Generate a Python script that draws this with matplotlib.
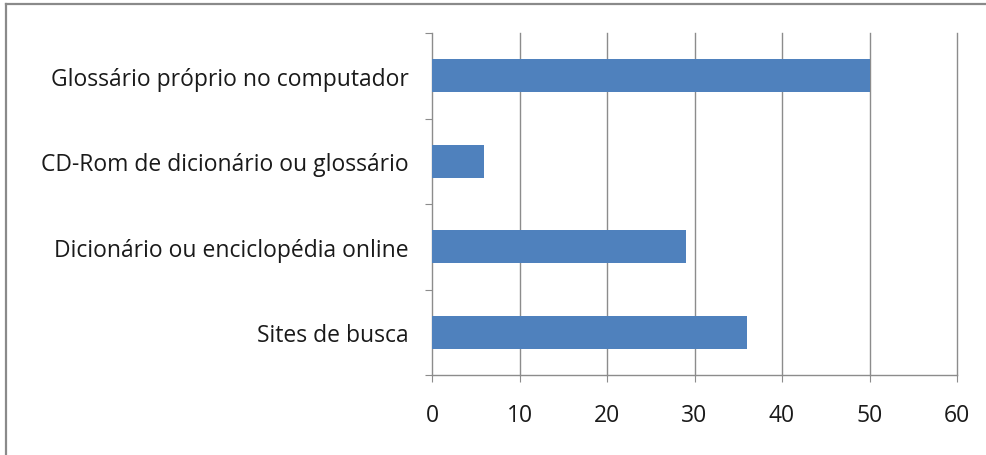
import matplotlib.pyplot as plt
from matplotlib.lines import Line2D

# data, top to bottom as in the chart
categories = ["Glossário próprio no computador",
              "CD-Rom de dicionário ou glossário",
              "Dicionário ou enciclopédia online",
              "Sites de busca"]
values = [50, 6, 29, 36]
xticks = [0, 10, 20, 30, 40, 50, 60]

plt.rcParams['font.family'] = ['Open Sans', 'DejaVu Sans']

fig = plt.figure(figsize=(9.87, 4.56), dpi=100)
ax = fig.add_axes([432 / 987, 80 / 456, 525 / 987, 342 / 456])

n = len(categories)
ypos = [n - i - 0.5 for i in range(n)]
ax.barh(ypos, values, height=0.39, color='#4F81BD', zorder=3)

ax.set_xlim(0, 60)
ax.set_ylim(0, n)
ax.set_xticks(xticks)
ax.set_xticklabels([str(t) for t in xticks], fontsize=16.5)
ax.set_yticks(range(n + 1))
ax.set_yticklabels([])
ax.set_yticks(ypos, minor=True)
ax.set_yticklabels(categories, minor=True, fontsize=16.5)

# vertical gridlines (the one at 60 forms the right edge)
for t in xticks[1:]:
    ax.axvline(t, color='#8C8C8C', linewidth=1.0, zorder=0, clip_on=False)
for s in ['top', 'right']:
    ax.spines[s].set_visible(False)
for s in ['left', 'bottom']:
    ax.spines[s].set_color('#8C8C8C')
    ax.spines[s].set_linewidth(1.0)

ax.tick_params(axis='y', which='major', length=5, color='#8C8C8C', direction='out')
ax.tick_params(axis='y', which='minor', length=0, pad=17, labelcolor='#1a1a1a')
ax.tick_params(axis='x', length=5, color='#8C8C8C', direction='out', pad=15,
               labelcolor='#1a1a1a')

# outer frame (top and left edges visible)
fig.add_artist(Line2D([6 / 987, 1], [1 - 5 / 456, 1 - 5 / 456], transform=fig.transFigure,
                      color='#8A8A8A', linewidth=1.6))
fig.add_artist(Line2D([6 / 987, 6 / 987], [0, 1 - 5 / 456], transform=fig.transFigure,
                      color='#8A8A8A', linewidth=1.6))

fig.savefig("out.png", dpi=100)
